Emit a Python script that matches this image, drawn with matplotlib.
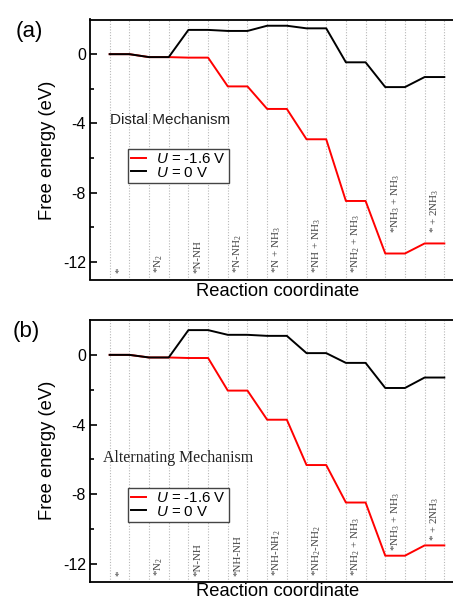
import numpy as np
import matplotlib
matplotlib.use("Agg")
import matplotlib.pyplot as plt
from matplotlib.font_manager import FontProperties

plt.rcParams['axes.unicode_minus'] = False
plt.rcParams['mathtext.fontset'] = 'custom'
plt.rcParams['mathtext.rm'] = 'Liberation Serif'
plt.rcParams['mathtext.it'] = 'Liberation Sans:italic'
plt.rcParams['font.family'] = ['Liberation Sans', 'DejaVu Sans']

# ---------------- data ----------------
labels_a = ["*", "*N$_2$", "*N-NH", "*N-NH$_2$", "*N + NH$_3$", "*NH + NH$_3$",
            "*NH$_2$ + NH$_3$", "*NH$_3$ + NH$_3$", "* + 2NH$_3$"]
u0_a = [0.0, -0.17, 1.40, 1.34, 1.64, 1.49, -0.47, -1.90, -1.32]
u16_a = [0.0, -0.17, -0.20, -1.86, -3.16, -4.91, -8.47, -11.50, -10.92]

labels_b = ["*", "*N$_2$", "*N-NH", "*NH-NH", "*NH-NH$_2$", "*NH$_2$-NH$_2$",
            "*NH$_2$ + NH$_3$", "*NH$_3$ + NH$_3$", "* + 2NH$_3$"]
u0_b = [0.0, -0.15, 1.42, 1.15, 1.09, 0.10, -0.46, -1.90, -1.30]
u16_b = [0.0, -0.15, -0.18, -2.05, -3.72, -6.32, -8.47, -11.52, -10.93]

series_names = ["$U$ = -1.6 V", "$U$ = 0 V"]
yticks = [-12, -8, -4, 0]
yminor = [-10, -6, -2]

# label baseline (data y) for each state label
lab_y_a = [-12.6] * 7 + [-10.3, -10.3]
lab_y_b = [-12.7] * 7 + [-11.25, -10.7]

W, H = 453, 599
fig = plt.figure(figsize=(W / 100, H / 100), dpi=100)

SANS = 'Liberation Sans'
SERIF = 'Liberation Serif'


def rect(left, top, right, bottom):
    return [left / W, 1 - bottom / H, (right - left) / W, (bottom - top) / H]


def step_xy(vals):
    xs, ys = [], []
    for i, v in enumerate(vals):
        xs += [2 * i, 2 * i + 1]
        ys += [v, v]
    return xs, ys


def panel(ax, labels, u0, u16, lab_y, mech_text, mech_xy, mech_fp, leg_top_px):
    n = len(labels)
    for k in range(2 * n):
        ax.axvline(k, color='#b8b8b8', lw=0.8, ls=(0, (1, 1.5)), zorder=0)
    x, y = step_xy(u16)
    ax.plot(x, y, color='#ff0000', lw=1.4, label=series_names[0], zorder=2)
    x, y = step_xy(u0)
    ax.plot(x, y, color='black', lw=1.4, label=series_names[1], zorder=3)
    lab_fp = FontProperties(family=SERIF, size=7.9)
    for i, (lab, ly) in enumerate(zip(labels, lab_y)):
        ax.text(2 * i + 0.5, ly, lab, rotation=90, ha='center', va='bottom',
                fontproperties=lab_fp, color='#404040')
    ax.text(mech_xy[0], mech_xy[1], mech_text, ha='left', va='center',
            color='#222222', fontproperties=mech_fp)
    ax.set_xlim(-1, 18)
    ax.set_ylim(-13, 2)
    ax.set_yticks(yticks)
    ax.set_yticks(yminor, minor=True)
    ax.set_yticklabels([str(t) for t in yticks])
    ax.set_xticks([])
    ax.tick_params(axis='y', which='major', direction='in', length=5, width=1.2,
                   labelsize=11.5, pad=3)
    ax.tick_params(axis='y', which='minor', direction='in', length=3, width=1.2)
    for s in ['left', 'top', 'bottom']:
        ax.spines[s].set_linewidth(1.3)
    ax.spines['right'].set_visible(False)
    leg = ax.legend(loc='upper left', bbox_to_anchor=(128.3 / W, 1 - leg_top_px / H),
                    bbox_transform=fig.transFigure, borderaxespad=0,
                    prop=FontProperties(family=SANS, size=10.8),
                    handlelength=1.0, handletextpad=0.65,
                    borderpad=0.2, labelspacing=-0.05, fancybox=False,
                    framealpha=1, edgecolor='#444444')
    leg.get_frame().set_linewidth(1.0)


ax1 = fig.add_axes(rect(90, 19.5, 464, 279.5))
panel(ax1, labels_a, u0_a, u16_a, lab_y_a, "Distal Mechanism", (0.0, -3.8),
      FontProperties(family=SANS, size=11), 149.3)
ax2 = fig.add_axes(rect(90, 320, 464, 581.5))
panel(ax2, labels_b, u0_b, u16_b, lab_y_b, "Alternating Mechanism", (-0.33, -5.94),
      FontProperties(family=SERIF, size=11.4), 488.3)

big = FontProperties(family=SANS, size=13.2)
for yc_lab, yc_x in [(150, 291.0), (450.5, 591.0)]:
    fig.text(48 / W, 1 - yc_lab / H, "Free energy (eV)", rotation=90,
             ha='center', va='center', fontproperties=big)
    fig.text(277.5 / W, 1 - yc_x / H, "Reaction coordinate", ha='center',
             va='center', fontproperties=big)
xy_lab = {"(a)": (29, 32), "(b)": (26, 332)}
for k, (px, py) in xy_lab.items():
    fig.text(px / W, 1 - py / H, k, ha='center', va='center',
             fontproperties=FontProperties(family=SANS, size=16))

fig.savefig("out.png", dpi=100)
